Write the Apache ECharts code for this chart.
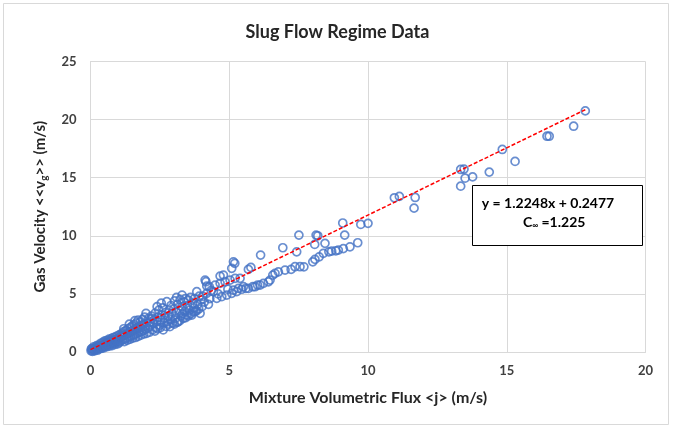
<!DOCTYPE html>
<html>
<head>
<meta charset="utf-8">
<script src="https://cdn.jsdelivr.net/npm/echarts@6/dist/echarts.min.js"></script>
<style>
html,body{margin:0;padding:0;background:#fff;}
#c{width:675px;height:433px;}
</style>
</head>
<body>
<div id="c"></div>
<script>
// Chart text
const chartTitle = 'Slug Flow Regime Data';
const xAxisTitle = 'Mixture Volumetric Flux <j> (m/s)';
const equationText = 'y = 1.2248x + 0.2477';
const cInfText = '=1.225';

// Axis ticks
const xTicks = [0, 5, 10, 15, 20];
const yTicks = [0, 5, 10, 15, 20, 25];

const slugPoints = [
  [0.02,0.1],[0.05,0.3],[0.07,0.05],[0.1,0.2],[0.12,0.45],[0.15,0.1],[0.17,0.35],[0.2,0.25],[0.22,0.55],[0.25,0.15],
  [0.27,0.4],[0.3,0.6],[0.32,0.3],[0.35,0.5],[0.37,0.75],[0.4,0.35],[0.42,0.6],[0.45,0.85],[0.47,0.45],[0.5,0.7],
  [0.52,0.95],[0.55,0.5],[0.57,0.8],[0.6,1.0],[0.62,0.6],[0.65,0.85],[0.67,1.1],[0.7,0.65],[0.72,0.95],[0.75,1.15],
  [0.77,0.7],[0.8,1.0],[0.82,1.25],[0.85,0.75],[0.87,1.05],[0.9,1.3],[0.92,0.85],[0.95,1.15],[0.97,1.4],[1.0,0.9],
  [0.03,0.25],[0.08,0.15],[0.13,0.3],[0.18,0.2],[0.23,0.4],[0.28,0.25],[0.33,0.45],[0.38,0.3],[0.43,0.5],[0.48,0.35],
  [0.53,0.6],[0.58,0.45],[0.63,0.75],[0.68,0.5],[0.73,0.8],[0.78,0.55],[0.83,0.9],[0.88,0.65],[0.93,1.0],[0.98,0.7],
  [1.02,1.2],[1.05,1.5],[1.08,0.95],[1.1,1.3],[1.13,1.6],[1.15,1.05],[1.18,1.4],[1.2,1.75],[1.23,1.1],[1.25,1.5],
  [1.28,1.85],[1.3,1.2],[1.33,1.6],[1.35,2.0],[1.38,1.3],[1.4,1.7],[1.43,2.1],[1.45,1.35],[1.48,1.8],[1.5,2.25],
  [1.53,1.45],[1.55,1.9],[1.58,2.35],[1.6,1.5],[1.63,2.0],[1.65,2.5],[1.68,1.6],[1.7,2.1],[1.72,2.75],[1.75,1.7],
  [1.78,2.2],[1.8,2.6],[1.83,1.75],[1.85,2.3],[1.88,2.8],[1.9,1.85],[1.93,2.4],[1.95,3.0],[1.98,1.95],[2.0,3.33],
  [1.03,0.8],[1.12,1.45],[1.22,0.9],[1.32,1.0],[1.42,1.1],[1.52,1.2],[1.62,1.25],[1.72,1.35],[1.82,1.45],[1.92,1.55],
  [1.6,2.7],[1.4,2.4],[1.2,2.0],
  [2.03,2.5],[2.06,2.05],[2.1,2.9],[2.13,2.2],[2.16,2.6],[2.2,3.1],[2.23,1.9],[2.26,2.45],[2.3,2.8],[2.33,3.35],
  [2.36,2.1],[2.4,2.6],[2.43,3.0],[2.46,3.6],[2.5,2.3],[2.53,2.75],[2.56,3.2],[2.6,3.8],[2.62,1.9],[2.65,2.5],
  [2.68,2.95],[2.7,3.4],[2.75,4.33],[2.78,2.6],[2.8,3.1],[2.83,3.6],[2.86,2.18],[2.88,2.8],[2.9,4.0],[2.93,3.3],
  [2.96,2.5],[3.0,3.7],[2.02,1.6],[2.12,1.7],[2.22,2.9],[2.32,1.8],[2.42,2.0],[2.52,2.1],[2.72,2.2],[2.82,2.4],
  [2.4,3.9],[2.55,4.2],
  [3.03,4.4],[3.06,2.9],[3.1,3.4],[3.13,4.1],[3.16,2.6],[3.2,3.6],[3.23,4.5],[3.26,3.1],
  [3.3,3.9],[3.34,2.9],[3.37,4.3],[3.4,3.5],[3.43,4.6],[3.47,3.2],[3.5,4.0],[3.53,4.45],[3.57,3.6],[3.6,4.7],
  [3.65,3.18],[3.68,4.2],[3.72,3.8],[3.75,4.6],[3.78,3.5],[3.83,5.19],[3.86,4.1],[3.9,3.7],[3.95,3.33],[3.98,4.5],
  [3.02,2.4],[3.12,2.55],[3.22,2.7],[3.32,3.3],[3.42,2.95],[3.52,3.1],[3.62,3.3],[3.72,3.45],[3.82,3.55],[3.92,4.8],
  [3.1,4.7],[3.3,4.9],
  [4.02,3.9],[4.05,4.8],[4.1,4.3],[4.13,6.19],[4.16,6.05],[4.19,5.67],[4.28,5.62],[4.19,5.05],[4.25,4.1],[4.3,4.6],
  [4.35,5.3],[4.43,5.19],[4.49,5.76],[4.55,4.62],[4.6,5.0],[4.67,5.91],[4.67,6.53],[4.73,4.76],[4.79,6.62],[4.85,6.05],
  [4.91,4.9],[4.95,5.4],[5.03,6.19],[5.09,5.05],[5.09,7.2],[5.15,7.76],[5.2,7.63],[5.15,5.33],[5.21,6.34],[5.27,5.19],
  [5.33,5.47],[5.39,6.34],[5.45,5.4],[5.51,5.62],
  [5.6,5.47],[5.69,5.47],[5.69,7.11],[5.78,7.28],[5.85,5.62],[5.93,5.62],[6.02,5.76],[6.11,5.76],[6.13,8.34],[6.23,5.91],
  [6.41,6.04],[6.47,6.19],[6.57,6.62],[6.65,6.77],[6.77,6.9],[6.93,8.97],[7.01,7.05],[7.23,7.11],[7.37,7.34],[7.43,8.62],
  [7.51,10.06],[7.55,7.34],[7.69,7.33],[8.01,7.76],[8.09,7.97],[8.08,9.26],[8.13,10.06],[8.19,10.0],[8.24,8.19],[8.39,8.49],
  [8.45,9.35],[8.59,8.62],[8.69,8.68],[8.84,8.71],[8.93,8.77],[9.09,11.1],[9.11,8.9],[9.16,10.06],[9.35,9.05],[9.63,9.4],
  [9.74,10.98],[10.0,11.07],
  [10.95,13.27],[11.13,13.39],[11.7,13.3],[11.66,12.38],[13.34,14.27],[13.34,15.71],[13.46,15.74],[13.5,14.96],[13.77,15.07],[14.37,15.48],
  [14.84,17.43],[15.3,16.4],[16.45,18.57],[16.53,18.57],[17.41,19.43],[17.83,20.75]
];

// Dashed trend line end points, as drawn in the picture
const trendX = [0, 17.83];
const trendY = [0.2, 20.85];

const FONT = 'Lato, "Liberation Sans", sans-serif';
const chart = echarts.init(document.getElementById('c'), null, {renderer: 'canvas'});

const option = {
  backgroundColor: '#ffffff',
  animation: false,
  title: {
    text: chartTitle,
    left: 'center',
    top: 18,
    textStyle: {fontFamily: FONT, fontSize: 18, fontWeight: 'bold', color: '#262626'}
  },
  grid: {left: 90.5, right: 29.5, top: 61.5, bottom: 81},
  xAxis: {
    type: 'value',
    min: xTicks[0], max: xTicks[xTicks.length - 1], interval: 5,
    name: xAxisTitle,
    nameLocation: 'middle',
    nameGap: 38,
    nameTextStyle: {fontFamily: FONT, fontSize: 16, fontWeight: 'bold', color: '#262626'},
    axisLine: {show: true, lineStyle: {color: '#d9d9d9', width: 1}},
    axisTick: {show: false},
    axisLabel: {fontFamily: FONT, fontSize: 13, fontWeight: 'bold', color: '#404040', margin: 12},
    splitLine: {show: true, lineStyle: {color: '#d9d9d9', width: 1}}
  },
  yAxis: {
    type: 'value',
    min: yTicks[0], max: yTicks[yTicks.length - 1], interval: 5,
    name: 'Gas Velocity <<v{s|g}>> (m/s)',
    nameLocation: 'middle',
    nameRotate: 90,
    nameGap: 42,
    nameTextStyle: {
      fontFamily: FONT, fontSize: 15, fontWeight: 'bold', color: '#262626',
      rich: {s: {fontFamily: FONT, fontSize: 10, fontWeight: 'bold', color: '#262626', verticalAlign: 'bottom', padding: [6, 0, 0, 0]}}
    },
    axisLine: {show: true, lineStyle: {color: '#d9d9d9', width: 1}},
    axisTick: {show: false},
    axisLabel: {fontFamily: FONT, fontSize: 13, fontWeight: 'bold', color: '#404040', margin: 14},
    splitLine: {show: true, lineStyle: {color: '#d9d9d9', width: 1}}
  },
  series: [
    {
      type: 'scatter',
      data: slugPoints,
      symbol: 'circle',
      symbolSize: 8,
      itemStyle: {color: 'rgba(0,0,0,0)', borderColor: '#4472C4', borderWidth: 1.7},
      z: 2
    },
    {
      type: 'line',
      data: trendX.map((x, i) => [x, trendY[i]]),
      symbol: 'none',
      lineStyle: {color: '#FF0000', width: 1.5, type: [4, 2]},
      z: 3
    }
  ],
  graphic: [
    {
      type: 'rect', silent: true, z: 0,
      shape: {x: 3.5, y: 3.5, width: 665, height: 421},
      style: {fill: 'none', stroke: '#d9d9d9', lineWidth: 1}
    },
    {
      type: 'rect', z: 20,
      shape: {x: 472.5, y: 185.5, width: 170, height: 60},
      style: {fill: '#ffffff', stroke: '#000000', lineWidth: 1}
    },
    {
      type: 'text', z: 21,
      style: {
        x: 548, y: 203, text: equationText, align: 'center', verticalAlign: 'middle',
        font: 'bold 14px ' + FONT, fill: '#000000'
      }
    },
    {
      type: 'text', z: 21,
      style: {
        x: 523, y: 222, align: 'left', verticalAlign: 'middle',
        text: '{c|C}{s|∞} {c|' + cInfText + '}',
        rich: {
          c: {fontFamily: FONT, fontSize: 14, fontWeight: 'bold', color: '#000000'},
          s: {fontFamily: FONT, fontSize: 8, fontWeight: 'bold', color: '#000000', verticalAlign: 'bottom', padding: [5, 0, 0, 0]}
        }
      }
    }
  ]
};
chart.setOption(option);
</script>
</body>
</html>
